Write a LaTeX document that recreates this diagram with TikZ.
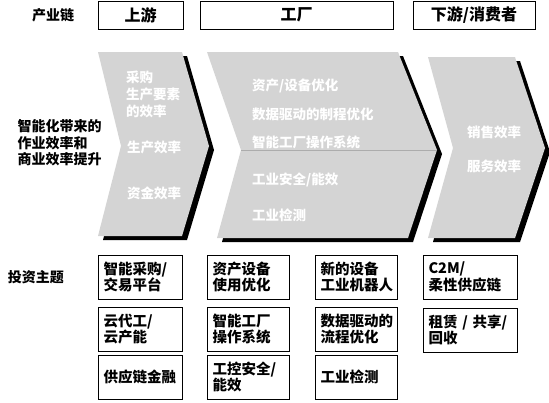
\documentclass[tikz,border=0pt]{standalone}
\usepackage{fontspec}
\setmainfont{Noto Sans CJK SC}
\usepackage{tikz}

\definecolor{chevgray}{RGB}{212,212,212}

\begin{document}
\begin{tikzpicture}[
            x=1pt, y=-1pt,
            headnode/.style={rectangle, draw=black, line width=0.8pt, minimum height=28pt, font=\fontsize{16}{18}\selectfont\bfseries},
            themenode/.style={rectangle, draw=black, line width=0.8pt, minimum height=44pt, inner xsep=5pt, text width=#1, align=left, font=\fontsize{14.5}{16.5}\selectfont\bfseries},
            chevtext/.style={anchor=west, text=white, align=left, inner sep=0pt, font=\fontsize{13.5}{17}\selectfont\bfseries},
            sidetext/.style={align=left, font=\fontsize{14}{16.5}\selectfont\bfseries}
          ]
          \useasboundingbox (0,0) rectangle (549,402);

          %Chevrons
          \fill[black, shift={(5,4)}] (98,52) -- (182,52) -- (209,146) -- (182,236) -- (98,236) -- (121,146) -- cycle;
          \fill[chevgray] (98,52) -- (182,52) -- (209,146) -- (182,236) -- (98,236) -- (121,146) -- cycle;
          \fill[black, shift={(5,4)}] (207,52) -- (398,52) -- (437,150) -- (408,238) -- (217,238) -- (241,150) -- cycle;
          \fill[chevgray] (207,52) -- (398,52) -- (437,150) -- (408,238) -- (217,238) -- (241,150) -- cycle;
          \draw[gray!65, line width=0.6pt] (241,150) -- (437,150);
          \fill[black, shift={(5,4)}] (428,57) -- (515,57) -- (545,148) -- (515,238) -- (428,238) -- (453,148) -- cycle;
          \fill[chevgray] (428,57) -- (515,57) -- (545,148) -- (515,238) -- (428,238) -- (453,148) -- cycle;

          %Header
          \node[sidetext] at (53,15) (Chain) {产业链};
          \node[headnode, minimum width=85pt] at (140.5,15) (Up) {上游};
          \node[headnode, minimum width=193pt] at (296.5,15) (Fab) {工厂};
          \node[headnode, minimum width=122pt] at (474,15) (Down) {下游/消费者};

          %Efficiency
          \node[sidetext, anchor=west] at (14,143) (Eff) {智能化带来的\\作业效率和\\商业效率提升};
          \node[chevtext] at (126,94) (U1) {采购\\生产要素\\的效率};
          \node[chevtext] at (127,147) (U2) {生产效率};
          \node[chevtext] at (127,193) (U3) {资金效率};
          \node[chevtext] at (252,86) (F1) {资产/设备优化};
          \node[chevtext] at (252,114) (F2) {数据驱动的制程优化};
          \node[chevtext] at (252,142) (F3) {智能工厂操作系统};
          \node[chevtext] at (252,180) (F4) {工业安全/能效};
          \node[chevtext] at (252,215) (F5) {工业检测};
          \node[chevtext] at (467,132) (D1) {销售效率};
          \node[chevtext] at (467,166) (D2) {服务效率};

          %Themes
          \node[sidetext] at (36,277) (Theme) {投资主题};
          \node[themenode=74pt] at (140.5,277) (A1) {智能采购/\\交易平台};
          \node[themenode=74pt] at (140.5,329) (A2) {云代工/\\云产能};
          \node[themenode=74pt] at (140.5,377) (A3) {供应链金融};
          \node[themenode=72pt] at (248.5,277) (B1) {资产设备\\使用优化};
          \node[themenode=72pt] at (248.5,329) (B2) {智能工厂\\操作系统};
          \node[themenode=72pt] at (248.5,377) (B3) {工控安全/\\能效};
          \node[themenode=72pt] at (356.5,277) (C1) {新的设备\\工业机器人};
          \node[themenode=72pt] at (356.5,329) (C2) {数据驱动的\\流程优化};
          \node[themenode=72pt] at (356.5,377) (C3) {工业检测};
          \node[themenode=84pt] at (470.5,277) (D3) {C2M/\\柔性供应链};
          \node[themenode=84pt] at (470.5,330) (D4) {租赁 / 共享/\\回收};

        \end{tikzpicture}
\end{document}
